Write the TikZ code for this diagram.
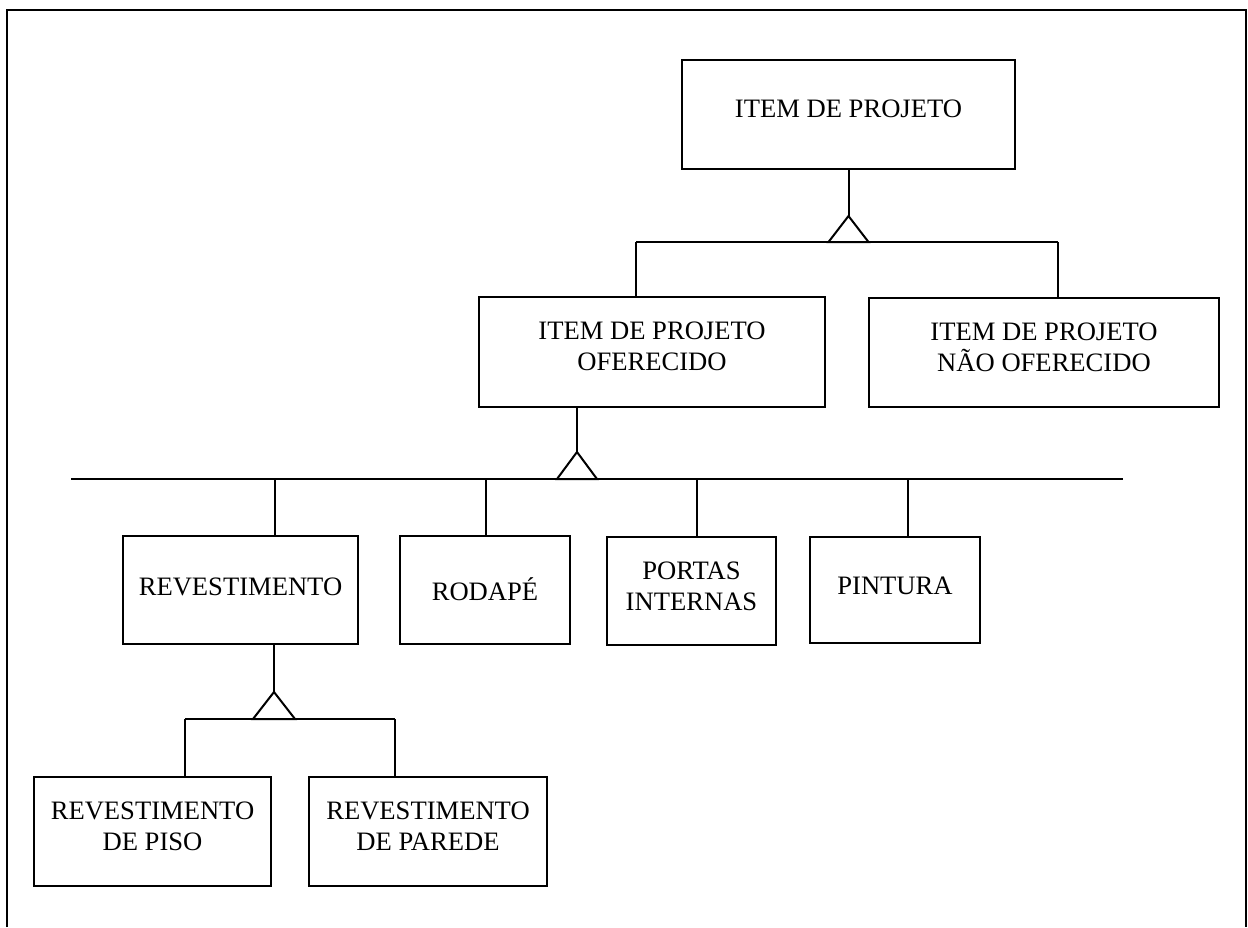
\documentclass[tikz,border=0pt]{standalone}
\usepackage{fontspec}
\setmainfont{Liberation Serif}
\usetikzlibrary{calc}
\begin{document}
\begin{tikzpicture}[x=0.5pt,y=-0.5pt,
  line width=1pt,
  box/.style 2 args={draw, rectangle, inner sep=0pt, line width=1pt,
    minimum width=#1*0.5pt, minimum height=#2*0.5pt},
  txt/.style={align=center, inner sep=0pt,
    font=\fontsize{13.3}{15.5}\selectfont},
  gen/.style={draw, line width=1pt, line join=miter, fill=white}
]
\useasboundingbox (0,0) rectangle (1248,927);

% open frame: left, top and right sides
\draw (7,927) -- (7,10) -- (1246,10) -- (1246,927);

% boxes
\node[box={333}{109}] (top) at (848.5,114.5) {};
\node[box={346}{110}] (ofer) at (652,352) {};
\node[box={350}{109}] (nao) at (1044,352.5) {};
\node[box={235}{108}] (rev) at (240.5,590) {};
\node[box={170}{108}] (rod) at (485,590) {};
\node[box={169}{108}] (por) at (691.5,591) {};
\node[box={170}{106}] (pin) at (895,590) {};
\node[box={237}{109}] (piso) at (152.5,831.5) {};
\node[box={238}{109}] (par) at (428,831.5) {};

% box texts
\node[txt] at ($(top.center)+(0,-5.5)$) {ITEM DE PROJETO};
\node[txt] at ($(ofer.center)+(0,-6)$) {ITEM DE PROJETO\\OFERECIDO};
\node[txt] at ($(nao.center)+(0,-5.5)$) {ITEM DE PROJETO\\NÃO OFERECIDO};
\node[txt] at ($(rev.center)+(0,-3)$) {REVESTIMENTO};
\node[txt] at ($(rod.center)+(0,-1)$) {RODAPÉ};
\node[txt] at ($(por.center)+(0,-5)$) {PORTAS\\INTERNAS};
\node[txt] at ($(pin.center)+(0,-4)$) {PINTURA};
\node[txt] at ($(piso.center)+(0,-5.5)$) {REVESTIMENTO\\DE PISO};
\node[txt] at ($(par.center)+(0,-5.5)$) {REVESTIMENTO\\DE PAREDE};

% generalisation 1: ITEM DE PROJETO
\coordinate (t1) at (848.5,216);
\coordinate (b1l) at (636,242);
\coordinate (b1r) at (1058,242);
\draw (top.south -| t1) -- (t1);
\draw (b1l) -- (b1r);
\draw[gen] (t1) -- ++(-20,26) -- ++(40,0) -- cycle;
\draw (b1l) -- (b1l |- ofer.north);
\draw (b1r) -- (b1r |- nao.north);

% generalisation 2: ITEM DE PROJETO OFERECIDO
\coordinate (t2) at (577,452);
\coordinate (b2l) at (71,479);
\coordinate (b2r) at (1123,479);
\draw (ofer.south -| t2) -- (t2);
\draw (b2l) -- (b2r);
\draw[gen] (t2) -- ++(-20,27) -- ++(40,0) -- cycle;
\coordinate (d1) at (275,479);
\coordinate (d2) at (486,479);
\coordinate (d3) at (697,479);
\coordinate (d4) at (908,479);
\draw (d1) -- (d1 |- rev.north);
\draw (d2) -- (d2 |- rod.north);
\draw (d3) -- (d3 |- por.north);
\draw (d4) -- (d4 |- pin.north);

% generalisation 3: REVESTIMENTO
\coordinate (t3) at (274,692);
\coordinate (b3l) at (185,719);
\coordinate (b3r) at (395,719);
\draw (rev.south -| t3) -- (t3);
\draw (b3l) -- (b3r);
\draw[gen] (t3) -- ++(-21,27) -- ++(42,0) -- cycle;
\draw (b3l) -- (b3l |- piso.north);
\draw (b3r) -- (b3r |- par.north);
\end{tikzpicture}
\end{document}
